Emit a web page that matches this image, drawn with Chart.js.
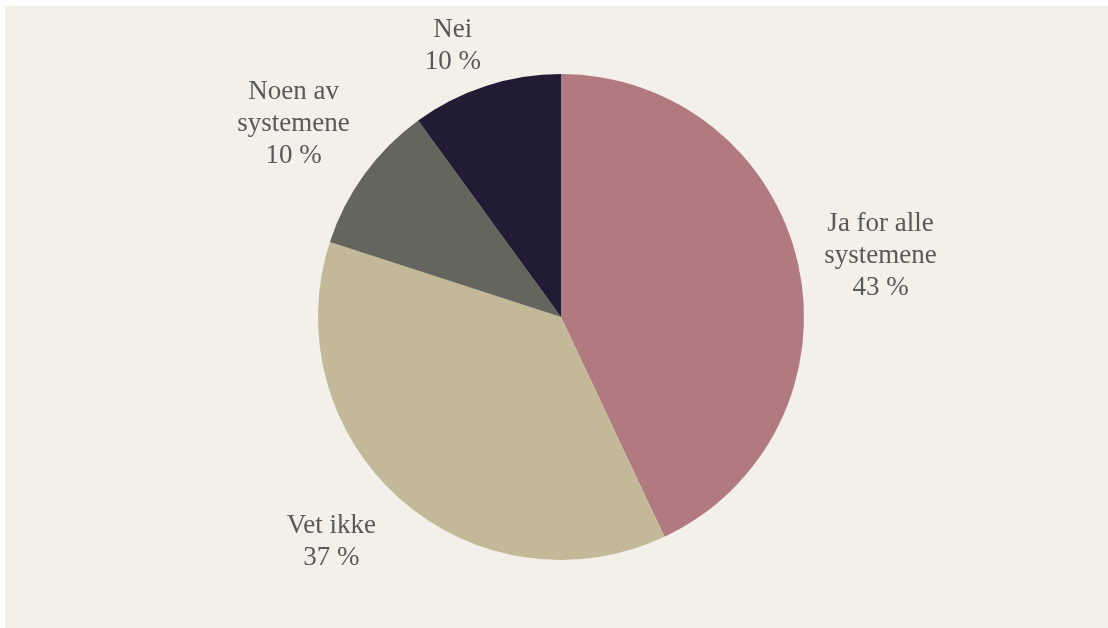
<!DOCTYPE html>
<html>
<head>
<meta charset="utf-8">
<script src="https://cdn.jsdelivr.net/npm/chart.js@4/dist/chart.umd.min.js"></script>
<style>
  html, body { margin: 0; padding: 0; background: #ffffff; }
  #wrap { position: absolute; left: 5px; top: 6px; width: 1103px; height: 622px; background: #f3f0e9; }
</style>
</head>
<body>
<div id="wrap"><canvas id="pie"></canvas></div>
<script>
const labels = [["Ja for alle", "systemene"], ["Vet ikke"], ["Noen av", "systemene"], ["Nei"]];
const shares = [43, 37, 10, 10];
const colors = ["#b07a7e", "#c3b998", "#64655c", "#211c33"];

// small hand nudges so the text blocks sit where they read best
const labelNudge = [[3, 10], [-15, -18], [-5, -2], [-8, 0]];

// Category name + percentage written outside each slice
const outsideLabels = {
  id: 'outsideLabels',
  afterDatasetsDraw(chart) {
    const ctx = chart.ctx;
    const arcs = chart.getDatasetMeta(0).data;
    ctx.save();
    ctx.font = '27px "Liberation Serif", "Times New Roman", serif';
    ctx.fillStyle = '#595959';
    ctx.textAlign = 'center';
    ctx.textBaseline = 'middle';
    const lineH = 32;
    arcs.forEach((arc, i) => {
      const p = arc.getProps(['x', 'y', 'startAngle', 'endAngle', 'outerRadius'], true);
      const mid = (p.startAngle + p.endAngle) / 2;
      const dist = p.outerRadius * 1.335;
      const lines = labels[i].concat([shares[i] + ' %']);
      let cx = p.x + Math.cos(mid) * dist;
      let cy = p.y + Math.sin(mid) * dist;
      const half = (lines.length - 1) * lineH / 2;
      // keep the block inside the chart
      if (cy - half < 24) cy = 24 + half;
      cx += labelNudge[i][0];
      cy += labelNudge[i][1];
      lines.forEach((t, k) => {
        ctx.fillText(t, cx, cy - half + k * lineH);
      });
    });
    ctx.restore();
  }
};

new Chart(document.getElementById('pie'), {
  type: 'pie',
  data: {
    labels: labels.map(l => l.join(' ')),
    datasets: [{ data: shares, backgroundColor: colors, borderWidth: 0 }]
  },
  options: {
    responsive: true,
    maintainAspectRatio: false,
    animation: false,
    layout: { padding: { top: 68, bottom: 68, left: 313, right: 304 } },
    plugins: { legend: { display: false }, tooltip: { enabled: false } }
  },
  plugins: [outsideLabels]
});
</script>
</body>
</html>
